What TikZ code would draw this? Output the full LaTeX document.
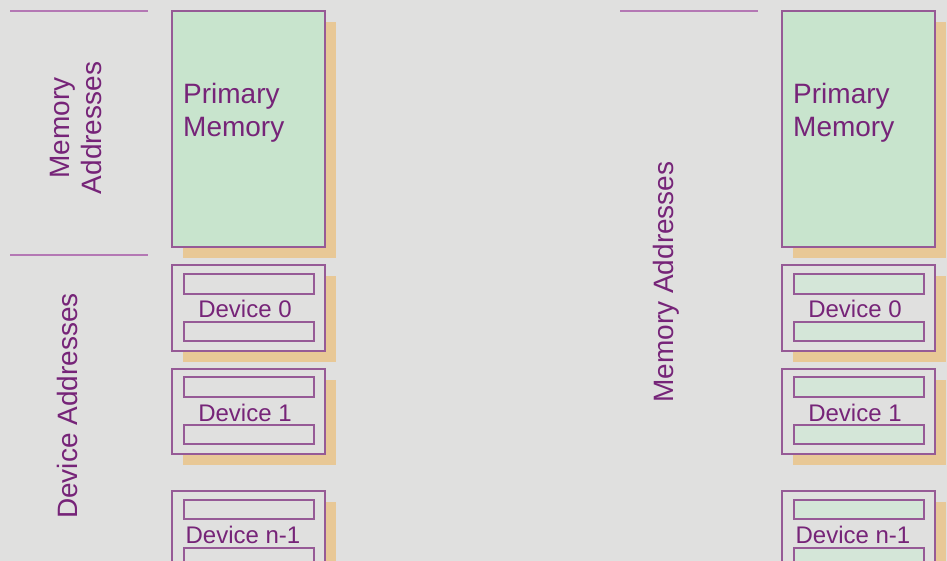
\documentclass[tikz,border=0pt]{standalone}
\usepackage{fontspec}
\setmainfont{Liberation Sans}
\definecolor{bg}{RGB}{224,224,223}
\definecolor{memgreen}{RGB}{200,228,205}
\definecolor{bargreen}{RGB}{212,230,216}
\definecolor{shadoworange}{RGB}{232,200,150}
\definecolor{edgepurple}{RGB}{150,90,150}
\definecolor{linepurple}{RGB}{180,120,180}
\definecolor{textpurple}{RGB}{118,36,120}
\tikzset{
  shadowbox/.style={fill=shadoworange, draw=none},
  outerbox/.style={draw=edgepurple, line width=1.4pt},
  innerbar/.style={draw=edgepurple, line width=1.2pt},
  sepline/.style={draw=linepurple, line width=1.6pt},
  bigtext/.style={text=textpurple, font=\fontsize{28}{32}\selectfont, inner sep=0pt},
  devtext/.style={text=textpurple, font=\fontsize{24}{28}\selectfont, inner sep=0pt, anchor=base},
}
\begin{document}
\begin{tikzpicture}[x=1pt,y=-1pt]
\useasboundingbox (0,0) rectangle (947,561);
\clip (0,0) rectangle (947,561);
\fill[bg] (0,0) rectangle (947,561);

% ---------------- left panel ----------------
\draw[sepline] (10,11) -- (148,11);
\draw[sepline] (10,255) -- (148,255);
\node[bigtext, rotate=90, align=center] (lmemaddr) at (76,128) {Memory\\Addresses};
\node[bigtext, rotate=90] (ldevaddr) at (67,406) {Device Addresses};

% primary memory
\fill[shadowbox] (183,22) rectangle (336,258);
\draw[outerbox, fill=memgreen] (172,11) rectangle (325,247);
\node[bigtext, anchor=base west] (lprim) at (183,104) {Primary};
\node[bigtext, anchor=base west] (lmem) at (183,137) {Memory};

% device 0
\fill[shadowbox] (183,276) rectangle (336,362);
\draw[outerbox, fill=bg] (172,265) rectangle (325,351);
\draw[innerbar] (184,274) rectangle (314,294);
\draw[innerbar] (184,322) rectangle (314,341);
\node[devtext] (ldev0) at (245,317) {Device 0};

% device 1
\fill[shadowbox] (183,380) rectangle (336,465);
\draw[outerbox, fill=bg] (172,369) rectangle (325,454);
\draw[innerbar] (184,377) rectangle (314,397);
\draw[innerbar] (184,425) rectangle (314,444);
\node[devtext] (ldev1) at (245,421) {Device 1};

% device n-1
\fill[shadowbox] (183,502) rectangle (336,600);
\draw[outerbox, fill=bg] (172,491) rectangle (325,590);
\draw[innerbar] (184,500) rectangle (314,519);
\draw[innerbar] (184,548) rectangle (314,580);
\node[devtext] (ldevn) at (243,543) {Device n-1};

% ---------------- right panel ----------------
\draw[sepline] (620,11) -- (758,11);
\node[bigtext, rotate=90] (rmemaddr) at (666,282) {Memory Addresses};

\fill[shadowbox] (793,22) rectangle (946,258);
\draw[outerbox, fill=memgreen] (782,11) rectangle (935,247);
\node[bigtext, anchor=base west] (rprim) at (793,104) {Primary};
\node[bigtext, anchor=base west] (rmem) at (793,137) {Memory};

\fill[shadowbox] (793,276) rectangle (946,362);
\draw[outerbox, fill=bg] (782,265) rectangle (935,351);
\draw[innerbar, fill=bargreen] (794,274) rectangle (924,294);
\draw[innerbar, fill=bargreen] (794,322) rectangle (924,341);
\node[devtext] (rdev0) at (855,317) {Device 0};

\fill[shadowbox] (793,380) rectangle (946,465);
\draw[outerbox, fill=bg] (782,369) rectangle (935,454);
\draw[innerbar, fill=bargreen] (794,377) rectangle (924,397);
\draw[innerbar, fill=bargreen] (794,425) rectangle (924,444);
\node[devtext] (rdev1) at (855,421) {Device 1};

\fill[shadowbox] (793,502) rectangle (946,600);
\draw[outerbox, fill=bg] (782,491) rectangle (935,590);
\draw[innerbar, fill=bargreen] (794,500) rectangle (924,519);
\draw[innerbar, fill=bargreen] (794,548) rectangle (924,580);
\node[devtext] (rdevn) at (853,543) {Device n-1};
\end{tikzpicture}
\end{document}
